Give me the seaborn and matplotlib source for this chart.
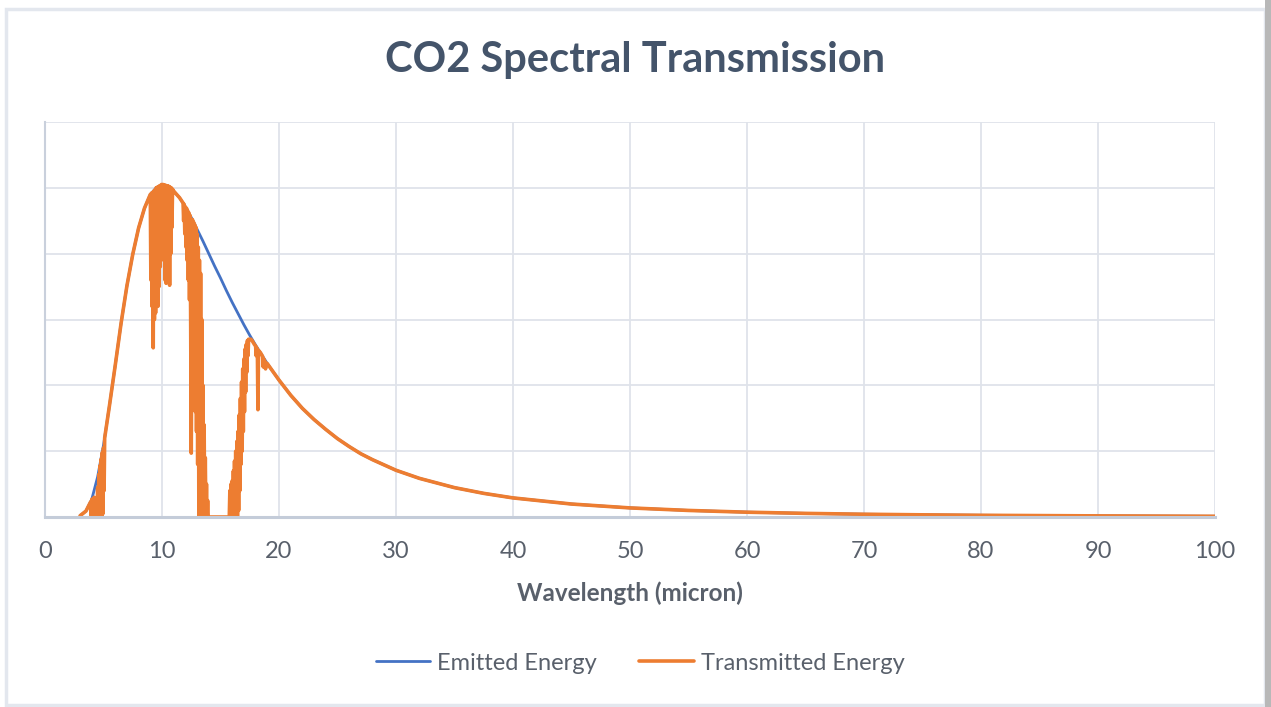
import matplotlib.pyplot as plt
from matplotlib.patches import Rectangle
import seaborn as sns

# emitted (blackbody-like) curve in grid units
wl_emit = [3, 3.5, 4, 4.5, 5, 5.5, 6, 6.5, 7, 7.5, 8, 8.5, 9, 9.5, 10, 10.5,
           11, 11.5, 12, 12.5, 13, 13.5, 14, 14.5, 15, 15.5, 16, 16.5, 17,
           17.5, 18, 19, 20, 21, 22, 23, 24, 25, 26, 27, 28, 29, 30, 32, 35,
           37.5, 40, 45, 50, 55, 60, 65, 70, 75, 80, 90, 100]
emitted = [0.02, 0.09, 0.27, 0.61, 1.09, 1.68, 2.30, 2.94, 3.51, 3.99, 4.39,
           4.69, 4.90, 5.00, 5.05, 5.03, 4.95, 4.85, 4.71, 4.55, 4.37, 4.19,
           4.00, 3.81, 3.63, 3.44, 3.26, 3.09, 2.92, 2.76, 2.61, 2.33, 2.08,
           1.85, 1.65, 1.48, 1.33, 1.19, 1.07, 0.96, 0.87, 0.79, 0.71, 0.587,
           0.446, 0.359, 0.29, 0.197, 0.138, 0.0996, 0.073, 0.055, 0.042,
           0.033, 0.026, 0.017, 0.011]

# transmitted energy, piece by piece (absorption bands are dense zigzags)
wl_t_start = [3.0, 3.5]
tr_t_start = [0.02, 0.09]

wl_band_4 = [3.90, 3.95, 4.00, 4.05, 4.10, 4.15, 4.20, 4.25, 4.30, 4.35, 4.40,
             4.45, 4.50, 4.55, 4.60, 4.65, 4.70, 4.75, 4.80, 4.85, 4.90, 4.95,
             5.00, 5.05, 5.10]
tr_band_4 = [0.23, 0.02, 0.27, 0.0, 0.25, 0.0, 0.30, 0.0, 0.05, 0.0, 0.20,
             0.0, 0.45, 0.0, 0.65, 0.0, 0.78, 0.0, 0.88, 0.0, 0.98, 0.05,
             1.05, 0.40, 1.20]

wl_t_mid1 = [5.5, 6.0, 6.5, 7.0, 7.5, 8.0, 8.5]
tr_t_mid1 = [1.68, 2.30, 2.94, 3.51, 3.99, 4.39, 4.69]

wl_band_9 = [9.00, 9.05, 9.10, 9.15, 9.20, 9.25, 9.30, 9.35, 9.40, 9.45, 9.50,
             9.55, 9.60, 9.65, 9.70, 9.75, 9.80, 9.85, 9.90, 9.95, 10.00,
             10.05, 10.10, 10.15, 10.20, 10.25, 10.30, 10.35, 10.40, 10.45,
             10.50, 10.55, 10.60, 10.65, 10.70, 10.75, 10.80, 10.85, 10.90]
tr_band_9 = [4.90, 3.60, 4.92, 3.20, 4.93, 2.57, 4.95, 3.00, 4.97, 3.10, 5.00,
             3.30, 5.01, 3.20, 5.02, 3.50, 5.03, 3.80, 5.04, 5.05, 5.05,
             5.05, 5.05, 3.90, 5.04, 3.60, 5.04, 3.55, 5.03, 3.60,
             5.03, 3.70, 5.02, 3.52, 5.01, 4.00, 5.00, 4.40, 4.98]

wl_t_mid2 = [11.0, 11.5]
tr_t_mid2 = [4.95, 4.85]

wl_band_13 = [11.80, 11.85, 11.90, 11.95, 12.00, 12.05, 12.10, 12.15, 12.20,
              12.25, 12.30, 12.35, 12.40, 12.45, 12.50, 12.55, 12.60, 12.65,
              12.70, 12.75, 12.80, 12.85, 12.90, 12.95, 13.00, 13.05, 13.10,
              13.15, 13.20, 13.25, 13.30, 13.35, 13.40, 13.45, 13.50, 13.55,
              13.60, 13.65, 13.70, 13.75, 13.80, 13.85, 13.90, 13.95, 14.00,
              15.00, 15.75]
tr_band_13 = [4.77, 4.50, 4.75, 4.30, 4.71, 4.10, 4.69, 3.90, 4.65,
              3.60, 4.62, 3.30, 4.58, 3.00, 0.97, 2.80, 4.52, 2.30,
              4.48, 2.00, 4.44, 1.60, 4.40, 1.30, 4.30, 0.80, 4.10,
              0.0, 3.90, 0.0, 3.70, 0.0, 3.00, 0.0, 2.00, 0.0,
              1.40, 0.0, 0.90, 0.0, 0.50, 0.0, 0.25, 0.0, 0.0,
              0.0, 0.0]

wl_band_16 = [15.80, 15.85, 15.90, 15.95, 16.00, 16.05, 16.10, 16.15, 16.20,
              16.25, 16.30, 16.35, 16.40, 16.45, 16.50, 16.55, 16.60, 16.65,
              16.70, 16.75, 16.80, 16.85, 16.90, 16.95, 17.00, 17.05, 17.10,
              17.15, 17.20, 17.25, 17.30, 17.35, 17.40, 17.50, 17.60, 17.70,
              17.80, 17.90, 18.00, 18.05, 18.10, 18.15, 18.20, 18.25, 18.40,
              18.60, 18.65, 18.70, 18.80, 18.85, 18.90, 19.00]
tr_band_16 = [0.40, 0.0, 0.50, 0.0, 0.55, 0.0, 0.70, 0.0, 0.85,
              0.0, 1.00, 0.0, 1.15, 0.0, 1.30, 0.10, 1.55, 0.40,
              1.80, 0.80, 2.05, 1.00, 2.25, 1.30, 2.40, 1.60, 2.55,
              1.90, 2.62, 2.20, 2.68, 2.45, 2.70, 2.70, 2.70, 2.68,
              2.65, 2.62, 2.60, 2.45, 2.57, 2.55, 1.63, 2.53, 2.50,
              2.44, 2.28, 2.40, 2.36, 2.25, 2.34, 2.33]

wl_t_tail = [20, 21, 22, 23, 24, 25, 26, 27, 28, 29, 30, 32, 35, 37.5, 40, 45,
             50, 55, 60, 65, 70, 75, 80, 90, 100]
tr_t_tail = [2.08, 1.85, 1.65, 1.48, 1.33, 1.19, 1.07, 0.96, 0.87, 0.79, 0.71,
             0.587, 0.446, 0.359, 0.29, 0.197, 0.138, 0.0996, 0.073, 0.055,
             0.042, 0.033, 0.026, 0.017, 0.011]

wl_trans = (wl_t_start + wl_band_4 + wl_t_mid1 + wl_band_9 + wl_t_mid2
            + wl_band_13 + wl_band_16 + wl_t_tail)
transmitted = (tr_t_start + tr_band_4 + tr_t_mid1 + tr_band_9 + tr_t_mid2
               + tr_band_13 + tr_band_16 + tr_t_tail)

x_ticks = list(range(0, 101, 10))

sns.set_theme(style="whitegrid")
plt.rcParams['font.family'] = ['Lato', 'DejaVu Sans']

fig = plt.figure(figsize=(12.71, 7.07), dpi=100)
fig.patch.set_facecolor('white')
# chart frame and right-hand shadow
W, H = 1271.0, 707.0
fig.patches.append(Rectangle((6 / W, 2 / H), 1259 / W, 696 / H, transform=fig.transFigure,
                             fill=False, edgecolor='#e3e7ee', linewidth=2.5))
fig.patches.append(Rectangle((1265 / W, 0), 6 / W, 1, transform=fig.transFigure,
                             facecolor='#b8b8b8', edgecolor='none'))

ax = fig.add_axes([45 / W, 190 / H, 1170 / W, 395 / H])
sns.lineplot(x=wl_emit, y=emitted, ax=ax, color='#4472c4', linewidth=2,
             label='Emitted Energy')
sns.lineplot(x=wl_trans, y=transmitted, ax=ax, color='#ed7d31', linewidth=2.6,
             label='Transmitted Energy', sort=False)

ax.set_xlim(0, 100)
ax.set_ylim(0, 6)
ax.set_xticks(x_ticks)
ax.set_yticks(range(0, 7))
ax.set_yticklabels([])
ax.tick_params(axis='both', length=0, labelsize=17, labelcolor='#59606b', pad=17)
ax.grid(color='#dfe3ea', linewidth=1.3)
for s in ['top', 'right']:
    ax.spines[s].set_visible(False)
ax.spines['left'].set_color('#c9d0dc')
ax.spines['left'].set_linewidth(1.5)
ax.spines['bottom'].set_color('#c4ccd9')
ax.spines['bottom'].set_linewidth(2.2)

ax.set_xlabel('Wavelength (micron)', fontsize=17.5, fontweight='bold',
              color='#59606b', labelpad=14)
ax.set_ylabel('')
fig.text(0.5, 1 - 60 / H, 'CO2 Spectral Transmission', ha='center', va='center',
         fontsize=30, fontweight='bold', color='#44546a')

ax.legend(loc='center', bbox_to_anchor=(0.5085, -0.37), ncol=2, frameon=False,
          fontsize=17, labelcolor='#59606b', handlelength=2.3,
          columnspacing=1.8, handletextpad=0.3)

fig.savefig('out.png', dpi=100, facecolor='white')
